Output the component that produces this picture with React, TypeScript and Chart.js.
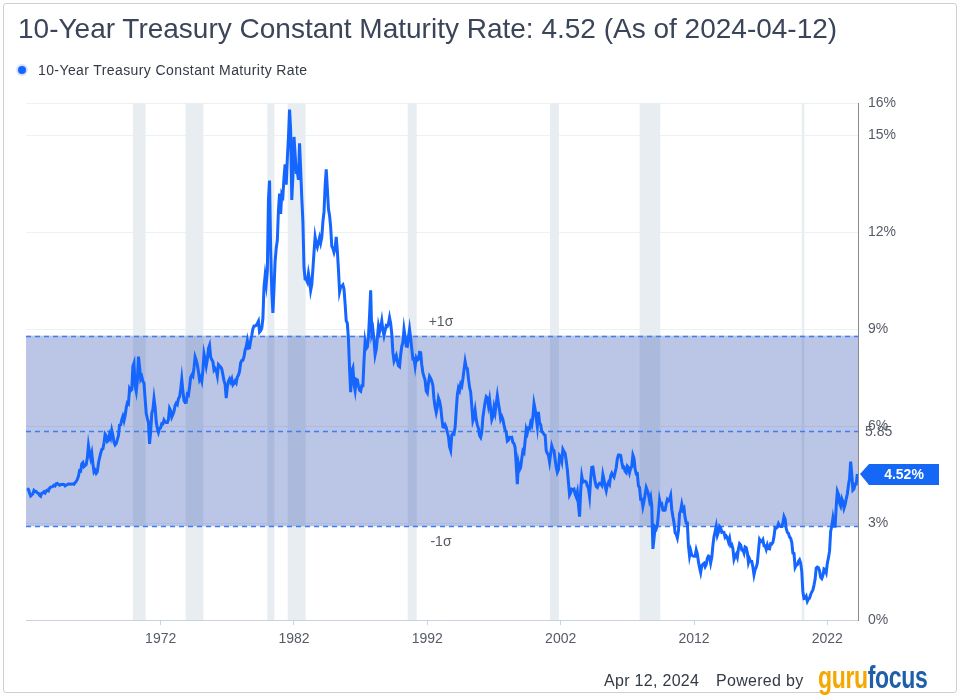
import React, { useEffect, useRef } from "react";
import { Chart, registerables } from "chart.js";

Chart.register(...registerables);

// Monthly 10-year treasury rates (%), each array starts in January of its start year
const rates1962to1969 = [
  4.08, 4.04, 3.93, 3.84, 3.87, 3.91, 4.01, 3.98, 3.98, 3.93, 3.92, 3.86,
  3.83, 3.92, 3.93, 3.97, 3.93, 3.99, 4.02, 4.0, 4.08, 4.11, 4.12, 4.13,
  4.17, 4.15, 4.22, 4.23, 4.2, 4.17, 4.19, 4.19, 4.2, 4.19, 4.15, 4.18,
  4.19, 4.21, 4.21, 4.2, 4.21, 4.21, 4.2, 4.25, 4.29, 4.35, 4.45, 4.62,
  4.61, 4.83, 4.87, 4.75, 4.78, 4.81, 5.02, 5.4, 5.18, 5.01, 5.16, 4.84,
  4.58, 4.63, 4.54, 4.59, 4.85, 5.02, 5.16, 5.28, 5.3, 5.48, 5.75, 5.7,
  5.53, 5.56, 5.74, 5.64, 5.87, 5.72, 5.5, 5.42, 5.46, 5.58, 5.7, 6.03,
  6.04, 6.19, 6.3, 6.17, 6.32, 6.57, 6.72, 6.69, 7.16, 7.1, 7.14, 7.85,
];
const rates1970s = [
  7.95, 7.24, 7.07, 7.39, 8.15, 7.84, 7.46, 7.53, 7.39, 7.33, 6.84, 6.39,
  6.24, 6.11, 5.45, 5.83, 6.39, 6.52, 6.85, 6.58, 6.14, 5.93, 5.81, 5.93,
  5.95, 6.08, 6.07, 6.19, 6.13, 6.11, 6.11, 6.21, 6.55, 6.48, 6.28, 6.36,
  6.46, 6.64, 6.71, 6.67, 6.85, 6.9, 7.13, 7.45, 7.09, 6.79, 6.73, 6.74,
  6.99, 6.96, 7.21, 7.51, 7.58, 7.54, 7.81, 8.14, 8.04, 7.9, 7.68, 7.43,
  7.5, 7.39, 7.73, 8.23, 8.06, 7.86, 8.06, 8.4, 8.5, 8.14, 8.05, 8.0,
  7.74, 7.79, 7.73, 7.56, 7.9, 7.86, 7.83, 7.77, 7.59, 7.41, 7.29, 6.87,
  7.21, 7.39, 7.46, 7.37, 7.46, 7.28, 7.33, 7.4, 7.34, 7.52, 7.58, 7.69,
  7.96, 8.03, 8.04, 8.15, 8.35, 8.46, 8.64, 8.41, 8.42, 8.64, 8.81, 9.01,
  9.1, 9.1, 9.12, 9.18, 9.25, 8.91, 8.95, 9.03, 9.33, 10.3, 10.65, 10.39,
];
const rates1980s = [
  10.8, 13.0, 13.6, 11.47, 10.18, 9.5, 10.25, 11.1, 11.51, 11.75, 12.68, 13.2,
  12.57, 13.19, 13.12, 13.68, 14.1, 13.47, 14.28, 14.94, 15.8, 15.15, 13.0, 13.72,
  14.95, 14.43, 13.86, 13.87, 13.62, 14.75, 13.95, 13.06, 12.34, 10.91, 10.55, 10.54,
  10.46, 10.72, 10.51, 10.2, 10.38, 10.85, 11.38, 11.85, 11.65, 11.54, 11.69, 11.83,
  11.67, 11.84, 12.32, 12.63, 13.41, 13.95, 13.36, 12.72, 12.52, 12.16, 11.57, 11.5,
  11.38, 11.51, 11.86, 11.43, 10.85, 10.16, 10.31, 10.33, 10.37, 10.24, 9.78, 9.26,
  9.19, 8.7, 7.78, 7.05, 7.71, 7.8, 7.3, 7.1, 7.45, 7.43, 7.25, 7.11,
  7.08, 7.25, 7.25, 8.02, 8.61, 8.4, 8.45, 8.76, 9.42, 10.2, 8.86, 8.99,
  8.67, 8.21, 8.37, 8.72, 9.09, 8.92, 9.06, 9.26, 8.98, 8.8, 8.96, 9.11,
  9.09, 9.17, 9.36, 9.18, 8.86, 8.28, 8.02, 8.11, 8.19, 8.01, 7.87, 7.84,
];
const rates1990s = [
  8.21, 8.47, 8.59, 9.0, 8.76, 8.48, 8.47, 8.75, 9.0, 8.72, 8.39, 8.08,
  8.09, 7.85, 8.11, 8.04, 8.07, 8.28, 8.27, 7.9, 7.65, 7.53, 7.42, 7.09,
  7.03, 7.34, 7.54, 7.48, 7.39, 7.26, 6.84, 6.59, 6.42, 6.59, 6.87, 6.77,
  6.6, 6.26, 5.98, 5.97, 6.04, 5.96, 5.81, 5.68, 5.36, 5.25, 5.72, 5.77,
  5.75, 5.97, 6.48, 6.97, 7.18, 7.1, 7.3, 7.24, 7.46, 7.74, 8.0, 7.81,
  7.78, 7.47, 7.2, 7.06, 6.63, 6.17, 6.28, 6.49, 6.2, 6.04, 5.93, 5.71,
  5.65, 5.81, 6.27, 6.51, 6.74, 6.91, 6.87, 6.64, 6.83, 6.53, 6.2, 6.3,
  6.58, 6.42, 6.69, 6.95, 6.71, 6.49, 6.22, 6.3, 6.21, 6.03, 5.88, 5.81,
  5.54, 5.57, 5.65, 5.64, 5.65, 5.5, 5.46, 5.34, 4.81, 4.2, 4.83, 4.65,
  4.72, 5.0, 5.23, 5.18, 5.54, 5.9, 5.79, 5.94, 5.92, 6.11, 6.03, 6.28,
];
const rates2000s = [
  6.7, 6.52, 6.26, 5.99, 6.44, 6.1, 6.05, 5.83, 5.8, 5.74, 5.72, 5.24,
  5.16, 5.1, 4.89, 5.14, 5.39, 5.28, 5.24, 4.97, 4.73, 4.57, 4.65, 5.09,
  5.04, 4.91, 5.28, 5.21, 5.16, 4.93, 4.65, 4.26, 3.87, 3.94, 4.05, 4.03,
  4.05, 3.9, 3.81, 3.96, 3.57, 3.2, 3.98, 4.45, 4.27, 4.29, 4.3, 4.27,
  4.15, 4.08, 3.83, 4.35, 4.72, 4.73, 4.5, 4.28, 4.13, 4.1, 4.19, 4.23,
  4.22, 4.17, 4.5, 4.34, 4.14, 4.0, 4.18, 4.26, 4.2, 4.46, 4.54, 4.47,
  4.42, 4.57, 4.72, 4.99, 5.11, 5.11, 5.09, 4.88, 4.72, 4.73, 4.6, 4.56,
  4.76, 4.72, 4.56, 4.69, 4.75, 5.1, 5.0, 4.67, 4.52, 4.53, 4.15, 4.1,
  3.74, 3.74, 3.51, 3.68, 3.88, 4.1, 4.01, 3.89, 3.69, 3.81, 3.53, 2.2,
  2.52, 2.87, 2.82, 2.93, 3.29, 3.72, 3.56, 3.59, 3.4, 3.39, 3.4, 3.59,
];
const rates2010s = [
  3.73, 3.69, 3.73, 3.85, 3.42, 3.2, 3.01, 2.7, 2.65, 2.54, 2.76, 3.29,
  3.39, 3.58, 3.41, 3.46, 3.17, 3.0, 3.0, 2.3, 1.98, 2.15, 2.01, 1.98,
  1.97, 1.97, 2.17, 2.05, 1.8, 1.62, 1.47, 1.68, 1.72, 1.75, 1.65, 1.72,
  1.91, 1.98, 1.96, 1.76, 1.93, 2.3, 2.58, 2.74, 2.9, 2.62, 2.72, 2.9,
  2.86, 2.71, 2.72, 2.71, 2.56, 2.6, 2.54, 2.42, 2.53, 2.3, 2.33, 2.21,
  1.88, 1.98, 2.04, 1.94, 2.2, 2.36, 2.32, 2.17, 2.17, 2.07, 2.26, 2.24,
  2.09, 1.78, 1.89, 1.81, 1.81, 1.64, 1.4, 1.56, 1.63, 1.76, 2.14, 2.49,
  2.43, 2.42, 2.48, 2.3, 2.3, 2.19, 2.32, 2.21, 2.2, 2.36, 2.35, 2.4,
  2.58, 2.86, 2.84, 2.87, 2.98, 2.91, 2.89, 2.89, 3.0, 3.2, 3.12, 2.83,
  2.71, 2.68, 2.57, 2.53, 2.4, 2.07, 2.06, 1.63, 1.7, 1.71, 1.81, 1.86,
];
const rates2020s = [
  1.76, 1.5, 0.87, 0.66, 0.67, 0.73, 0.58, 0.65, 0.68, 0.79, 0.87, 0.93,
  1.08, 1.26, 1.61, 1.64, 1.62, 1.52, 1.32, 1.28, 1.37, 1.58, 1.56, 1.47,
  1.76, 1.93, 2.13, 2.75, 2.9, 3.14, 2.9, 2.9, 3.52, 3.98, 3.89, 3.62,
  3.53, 3.75, 3.66, 3.46, 3.57, 3.75, 3.9, 4.17, 4.38, 4.9, 4.5, 4.02,
  4.06, 4.21, 4.21, 4.52,
];
const seriesStartYears = [1962, 1970, 1980, 1990, 2000, 2010, 2020];

const latestRate = 4.52;
const meanRate = 5.85;
const sigmaRate = 2.95;

const recessionStarts = [1969.92, 1973.87, 1980.0, 1981.53, 1990.53, 2001.2, 2007.92, 2020.08];
const recessionEnds = [1970.87, 1975.2, 1980.53, 1982.87, 1991.2, 2001.87, 2009.47, 2020.28];

const xTickYears = [1972, 1982, 1992, 2002, 2012, 2022];
const yTickValues = [0, 3, 6, 9, 12, 15, 16];

const LINE_BLUE = "#1565ff";

export default function App() {
  const ref = useRef<HTMLCanvasElement>(null);

  useEffect(() => {
    document.body.style.margin = "0";
    const canvas = ref.current!;
    const decades = [rates1962to1969, rates1970s, rates1980s, rates1990s, rates2000s, rates2010s, rates2020s];
    const points: { x: number; y: number }[] = [];
    decades.forEach((vals, d) => {
      vals.forEach((v, i) => points.push({ x: seriesStartYears[d] + i / 12, y: v }));
    });

    Chart.defaults.font.family = '"Liberation Sans", Arial, Helvetica, sans-serif';

    const overlay = {
      id: "overlay",
      beforeDatasetsDraw(chart: any) {
        const { ctx, chartArea, scales } = chart;
        const { left, right, top, bottom } = chartArea;
        const x = scales.x, y = scales.y;
        ctx.save();
        ctx.beginPath();
        ctx.rect(left, top, right - left, bottom - top);
        ctx.clip();
        ctx.fillStyle = "#e8edf2";
        recessionStarts.forEach((s, i) => {
          const x0 = x.getPixelForValue(s);
          const x1 = x.getPixelForValue(recessionEnds[i]);
          ctx.fillRect(x0, top, Math.max(x1 - x0, 2), bottom - top);
        });
        const yU = y.getPixelForValue(meanRate + sigmaRate);
        const yL = y.getPixelForValue(meanRate - sigmaRate);
        ctx.fillStyle = "rgba(50,80,180,0.33)";
        ctx.fillRect(left, yU, right - left, yL - yU);
        ctx.strokeStyle = "#3d7ef2";
        ctx.lineWidth = 1.5;
        ctx.setLineDash([5, 4]);
        [meanRate + sigmaRate, meanRate, meanRate - sigmaRate].forEach((v) => {
          const py = Math.round(y.getPixelForValue(v)) + 0.5;
          ctx.beginPath();
          ctx.moveTo(left, py);
          ctx.lineTo(right, py);
          ctx.stroke();
        });
        ctx.restore();
      },
      afterDatasetsDraw(chart: any) {
        const { ctx, chartArea, scales } = chart;
        const y = scales.y;
        const yU = y.getPixelForValue(meanRate + sigmaRate);
        const yL = y.getPixelForValue(meanRate - sigmaRate);
        const yM = y.getPixelForValue(meanRate);
        ctx.save();
        ctx.font = '14px "Liberation Sans", Arial, sans-serif';
        ctx.fillStyle = "#555b66";
        ctx.textAlign = "center";
        ctx.textBaseline = "middle";
        ctx.fillText("+1σ", 441, yU - 14);
        ctx.fillText("-1σ", 441, yL + 16);
        ctx.textAlign = "left";
        ctx.fillText(meanRate.toFixed(2), chartArea.right + 7, yM + 1);
        // latest value tag
        const yt = Math.round(y.getPixelForValue(latestRate));
        const x0 = chartArea.right + 2;
        ctx.fillStyle = "#1468f5";
        ctx.beginPath();
        ctx.moveTo(x0, yt);
        ctx.lineTo(x0 + 9, yt - 10);
        ctx.lineTo(x0 + 79, yt - 10);
        ctx.lineTo(x0 + 79, yt + 11);
        ctx.lineTo(x0 + 9, yt + 11);
        ctx.closePath();
        ctx.fill();
        ctx.fillStyle = "#ffffff";
        ctx.font = 'bold 14px "Liberation Sans", Arial, sans-serif';
        ctx.textAlign = "center";
        ctx.fillText(latestRate.toFixed(2) + "%", x0 + 44, yt + 1);
        ctx.restore();
      },
    };

    const chart = new Chart(canvas, {
      type: "line",
      data: {
        datasets: [
          {
            label: "10-Year Treasury Constant Maturity Rate",
            data: points,
            borderColor: LINE_BLUE,
            borderWidth: 3,
            pointRadius: 0,
            tension: 0,
            fill: false,
          },
        ],
      },
      options: {
        responsive: false,
        animation: false,
        layout: { padding: { left: 26, top: 103, right: 0, bottom: 0 } },
        plugins: { legend: { display: false }, tooltip: { enabled: false } },
        scales: {
          x: {
            type: "linear",
            min: 1961.9,
            max: 2024.3,
            afterBuildTicks: (s: any) => {
              s.ticks = xTickYears.map((v) => ({ value: v }));
            },
            afterFit: (s: any) => {
              s.height = 80;
            },
            grid: { drawOnChartArea: false, drawTicks: true, tickLength: 5, color: "#c9d3de" },
            border: { display: true, color: "#c9d3de" },
            ticks: {
              color: "#555b66",
              font: { size: 14 },
              padding: 6,
              maxRotation: 0,
              autoSkip: false,
              callback: (v: any) => String(v),
            },
          },
          y: {
            position: "right",
            min: 0,
            max: 16,
            afterBuildTicks: (s: any) => {
              s.ticks = yTickValues.map((v) => ({ value: v }));
            },
            afterFit: (s: any) => {
              s.width = 102;
            },
            grid: { color: "#edf0f4", drawTicks: false },
            border: { display: true, color: "#8a8a8a" },
            ticks: {
              color: "#555b66",
              font: { size: 14 },
              padding: 10,
              callback: (v: any) => v + "%",
            },
          },
        },
      },
      plugins: [overlay],
    });
    return () => chart.destroy();
  }, []);

  const font = '"Liberation Sans", Arial, Helvetica, sans-serif';
  return (
    <div style={{ position: "relative", width: 960, height: 700, background: "#fff", fontFamily: font, overflow: "hidden" }}>
      <div
        style={{
          position: "absolute",
          left: 3,
          top: 3,
          width: 954,
          height: 690,
          border: "1px solid #cfcfd4",
          borderRadius: 3,
          boxSizing: "border-box",
        }}
      />
      <canvas ref={ref} width={960} height={700} style={{ position: "absolute", left: 0, top: 0, width: 960, height: 700 }} />
      <div style={{ position: "absolute", left: 18, top: 13, fontSize: 28, lineHeight: "32px", color: "#3b4559", whiteSpace: "nowrap" }}>
        10-Year Treasury Constant Maturity Rate: 4.52 (As of 2024-04-12)
      </div>
      <div style={{ position: "absolute", left: 16, top: 64, width: 12, height: 12, borderRadius: 6, background: "rgba(21,101,255,0.18)" }} />
      <div style={{ position: "absolute", left: 18, top: 66, width: 8, height: 8, borderRadius: 4, background: LINE_BLUE }} />
      <div style={{ position: "absolute", left: 38, top: 62, fontSize: 14, lineHeight: "16px", letterSpacing: 0.4, color: "#333a45", whiteSpace: "nowrap" }}>
        10-Year Treasury Constant Maturity Rate
      </div>
      <div style={{ position: "absolute", left: 604, top: 672, fontSize: 16, lineHeight: "18px", letterSpacing: 0.3, color: "#333a45", whiteSpace: "nowrap" }}>
        Apr 12, 2024
      </div>
      <div style={{ position: "absolute", left: 716, top: 672, fontSize: 16, lineHeight: "18px", letterSpacing: 0.3, color: "#333a45", whiteSpace: "nowrap" }}>
        Powered by
      </div>
      <div
        style={{
          position: "absolute",
          left: 818,
          top: 660,
          fontSize: 32,
          lineHeight: "34px",
          fontWeight: "bold",
          whiteSpace: "nowrap",
          transform: "scaleX(0.72)",
          transformOrigin: "left top",
          letterSpacing: -0.5,
        }}
      >
        <span style={{ color: "#f5a800" }}>guru</span>
        <span style={{ color: "#1f5fa8" }}>focus</span>
      </div>
    </div>
  );
}
